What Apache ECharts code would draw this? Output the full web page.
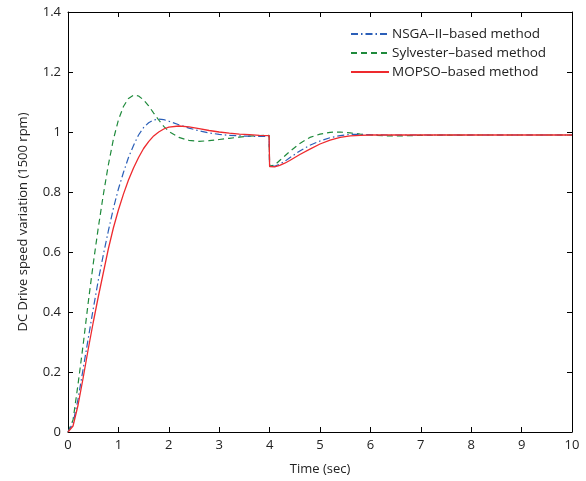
<!DOCTYPE html>
<html>
<head>
<meta charset="utf-8">
<script src="https://cdn.jsdelivr.net/npm/echarts@6/dist/echarts.min.js"></script>
<style>
  html, body { margin: 0; padding: 0; background: #fff; }
  #main { width: 586px; height: 481px; }
</style>
</head>
<body>
<div id="main"></div>
<script>
// sample times (sec), shared by the three responses
var times = [0, 0.1, 0.2, 0.3, 0.4, 0.5, 0.6, 0.7, 0.8, 0.9, 1.0, 1.1, 1.2, 1.3, 1.4, 1.5, 1.6, 1.7, 1.8, 1.9,
  2.0, 2.2, 2.4, 2.6, 2.8, 3.0, 3.2, 3.4, 3.6, 3.8, 3.99, 4.0, 4.1, 4.2, 4.3, 4.4, 4.6, 4.8, 5.0, 5.2,
  5.4, 5.6, 5.8, 6.0, 6.3, 6.6, 7, 8, 9, 10];

var nsga = [0, 0.03, 0.11, 0.21, 0.31, 0.41, 0.505, 0.59, 0.67, 0.745, 0.81, 0.865, 0.915, 0.955, 0.99, 1.015, 1.031, 1.04, 1.043, 1.041,
  1.036, 1.024, 1.013, 1.004, 0.997, 0.992, 0.989, 0.987, 0.986, 0.985, 0.985, 0.885, 0.886, 0.893, 0.902, 0.914, 0.937, 0.956, 0.97, 0.981,
  0.988, 0.992, 0.992, 0.991, 0.99, 0.99, 0.99, 0.99, 0.99, 0.99];

var sylvester = [0, 0.04, 0.16, 0.29, 0.43, 0.56, 0.68, 0.79, 0.89, 0.975, 1.04, 1.085, 1.112, 1.123, 1.12, 1.107, 1.087, 1.063, 1.04, 1.019,
  1.002, 0.982, 0.972, 0.969, 0.971, 0.975, 0.979, 0.983, 0.986, 0.988, 0.989, 0.886, 0.89, 0.905, 0.92, 0.935, 0.962, 0.982, 0.993, 0.999,
  1.0, 0.997, 0.993, 0.99, 0.987, 0.987, 0.989, 0.99, 0.99, 0.99];

var mopso = [0, 0.02, 0.09, 0.18, 0.275, 0.365, 0.45, 0.53, 0.61, 0.68, 0.74, 0.793, 0.84, 0.88, 0.915, 0.945, 0.968, 0.987, 1.0, 1.01,
  1.016, 1.02, 1.017, 1.011, 1.005, 1.0, 0.996, 0.993, 0.991, 0.989, 0.988, 0.885, 0.884, 0.889, 0.896, 0.905, 0.925, 0.943, 0.96, 0.973,
  0.982, 0.987, 0.989, 0.99, 0.99, 0.99, 0.99, 0.99, 0.99, 0.99];

var names = ['NSGA\u2013II\u2013based method', 'Sylvester\u2013based method', 'MOPSO\u2013based method'];

function pairs(vals) {
  return times.map(function(t, i) { return [t, vals[i]]; });
}

var font = 'Open Sans';
var axisBase = {
  type: 'value',
  axisLine: { show: true, onZero: false, lineStyle: { color: '#000', width: 1 } },
  axisTick: { show: true, inside: true, length: 5, lineStyle: { color: '#000' } },
  splitLine: { show: false }
};

var myChart = echarts.init(document.getElementById('main'));

var option = {
  animation: false,
  backgroundColor: '#fff',
  grid: { left: 68, right: 14, top: 12, bottom: 44 },
  legend: {
    orient: 'vertical',
    left: 345,
    top: 22,
    itemWidth: 38,
    itemHeight: 12,
    itemGap: 5,
    itemStyle: { opacity: 0 },
    textStyle: { fontFamily: font, fontSize: 13.5, color: '#222', padding: [0, 0, 0, -2] },
    data: names
  },
  xAxis: [
    Object.assign({}, axisBase, {
      min: 0, max: 10, interval: 1,
      position: 'bottom',
      name: 'Time (sec)',
      nameLocation: 'middle',
      nameGap: 31,
      nameTextStyle: { fontFamily: font, fontSize: 13, color: '#222' },
      axisLabel: { fontFamily: font, fontSize: 13, color: '#222', margin: 7 }
    }),
    Object.assign({}, axisBase, {
      min: 0, max: 10, interval: 1,
      position: 'top',
      axisLabel: { show: false }
    })
  ],
  yAxis: [
    Object.assign({}, axisBase, {
      min: 0, max: 1.4, interval: 0.2,
      position: 'left',
      name: 'DC Drive speed variation (1500 rpm)',
      nameLocation: 'middle',
      nameGap: 38,
      nameTextStyle: { fontFamily: font, fontSize: 13, color: '#222' },
      axisLabel: { fontFamily: font, fontSize: 13, color: '#222', margin: 7 }
    }),
    Object.assign({}, axisBase, {
      min: 0, max: 1.4, interval: 0.2,
      position: 'right',
      axisLabel: { show: false }
    })
  ],
  series: [
    {
      name: names[0], type: 'line', symbol: 'none', z: 3,
      color: '#2b5fb8',
      lineStyle: { width: 1.2, type: [7, 3, 1.5, 3] },
      data: pairs(nsga)
    },
    {
      name: names[1], type: 'line', symbol: 'none', z: 2,
      color: '#1f8a3c',
      lineStyle: { width: 1.2, type: [6, 4] },
      data: pairs(sylvester)
    },
    {
      name: names[2], type: 'line', symbol: 'none', z: 4,
      color: '#ee2a2e',
      lineStyle: { width: 1.3, type: 'solid' },
      data: pairs(mopso)
    }
  ]
};

myChart.setOption(option);
</script>
</body>
</html>
